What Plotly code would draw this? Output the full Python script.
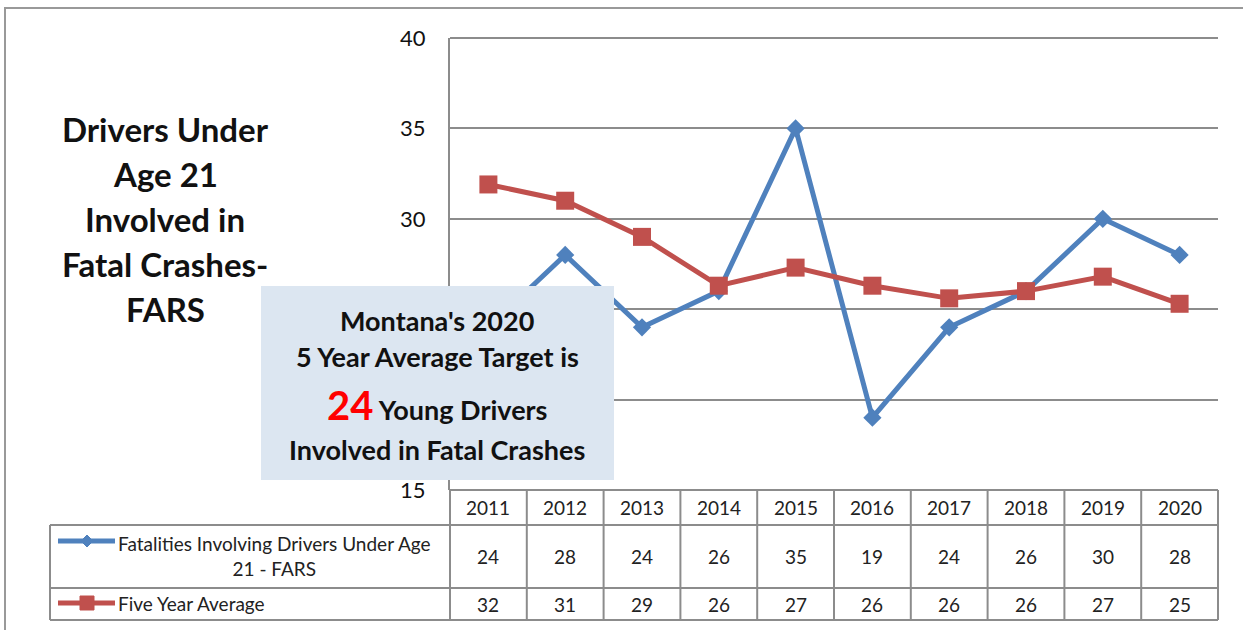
import plotly.graph_objects as go

years = ["2011", "2012", "2013", "2014", "2015", "2016", "2017", "2018", "2019", "2020"]
fatalities = [24, 28, 24, 26, 35, 19, 24, 26, 30, 28]
five_year_avg = [31.9, 31.0, 29.0, 26.3, 27.3, 26.3, 25.6, 26.0, 26.8, 25.3]
five_year_avg_labels = ["32", "31", "29", "26", "27", "26", "26", "26", "27", "25"]
fatalities_labels = [str(v) for v in fatalities]
series_names = ["Fatalities Involving Drivers Under Age<br>21 - FARS", "Five Year Average"]
y_ticks = [15, 20, 25, 30, 35, 40]
# 20 and 25 are hidden behind the target box in the reference
y_tick_text = ["15", "", "", "30", "35", "40"]

W, H = 1243, 630
L, R, T, B = 450, 25, 38, 140
PW, PH = W - L - R, H - T - B

def xp(px):
    return (px - L) / PW

def yp(py):
    return (H - B - py) / PH

BLUE = "#4F81BD"
RED = "#C0504D"
GRID = "#8c8c8c"
FONT = "Lato"

xs = list(range(len(years)))
fig = go.Figure()
fig.add_trace(go.Scatter(x=xs, y=fatalities, mode="lines+markers",
                         line=dict(color=BLUE, width=5),
                         marker=dict(symbol="diamond", size=14, color=BLUE),
                         name="fat", showlegend=False))
fig.add_trace(go.Scatter(x=xs, y=five_year_avg, mode="lines+markers",
                         line=dict(color=RED, width=5),
                         marker=dict(symbol="square", size=18, color=RED),
                         name="avg", showlegend=False))

shapes = []
ann = []

def A(x, y, text, font, xanchor="center", align="center"):
    ann.append(dict(x=x, y=y, xref="paper", yref="paper", text=text, showarrow=False,
                    xanchor=xanchor, yanchor="middle", align=align, font=font))

# outer frame
shapes.append(dict(type="rect", xref="paper", yref="paper", x0=xp(5), x1=xp(1260),
                   y0=yp(650), y1=yp(8), line=dict(color="#999999", width=2), layer="below"))

tl = dict(color=GRID, width=2)
# top gridline (40)
shapes.append(dict(type="line", xref="paper", yref="paper", x0=0, x1=1, y0=1, y1=1, line=tl, layer="below"))

# table
shapes.append(dict(type="line", xref="paper", yref="paper", x0=0, x1=1, y0=yp(490), y1=yp(490), line=tl))
for py in (525, 588, 620):
    shapes.append(dict(type="line", xref="paper", yref="paper", x0=xp(50), x1=1, y0=yp(py), y1=yp(py), line=tl))
shapes.append(dict(type="line", xref="paper", yref="paper", x0=xp(50), x1=xp(50), y0=yp(525), y1=yp(620), line=tl))
for i in range(len(years) + 1):
    x = i / len(years)
    shapes.append(dict(type="line", xref="paper", yref="paper", x0=x, x1=x, y0=yp(490), y1=yp(620), line=tl))

cell_font = dict(family=FONT, size=19, color="#222222")
for i, yr in enumerate(years):
    xc = (i + 0.5) / len(years)
    A(xc, yp(507), yr, cell_font)
    A(xc, yp(556), fatalities_labels[i], cell_font)
    A(xc, yp(604), five_year_avg_labels[i], cell_font)

# legend keys in table
shapes.append(dict(type="line", xref="paper", yref="paper", x0=xp(58), x1=xp(115), y0=yp(541), y1=yp(541),
                   line=dict(color=BLUE, width=5)))
shapes.append(dict(type="path", xref="paper", yref="paper",
                   path=f"M {xp(87)} {yp(535)} L {xp(93)} {yp(541)} L {xp(87)} {yp(547)} L {xp(81)} {yp(541)} Z",
                   fillcolor=BLUE, line=dict(color=BLUE, width=1)))
shapes.append(dict(type="line", xref="paper", yref="paper", x0=xp(58), x1=xp(115), y0=yp(603), y1=yp(603),
                   line=dict(color=RED, width=5)))
shapes.append(dict(type="rect", xref="paper", yref="paper", x0=xp(80), x1=xp(94), y0=yp(610), y1=yp(596),
                   fillcolor=RED, line=dict(color=RED, width=1)))
A(xp(116), yp(556), series_names[0], cell_font, xanchor="left", align="center")
A(xp(116), yp(603), series_names[1], cell_font, xanchor="left", align="left")

# title
title_lines = ["Drivers Under", "Age 21", "Involved in", "Fatal Crashes-", "FARS"]
title_font = dict(family=FONT, size=33, color="#111111")
for k, line in enumerate(title_lines):
    A(xp(165), yp(129 + 45 * k), f"<b>{line}</b>", title_font)

# target box
shapes.append(dict(type="rect", xref="paper", yref="paper", x0=xp(261), x1=xp(614), y0=yp(480), y1=yp(286),
                   fillcolor="#DCE6F1", line=dict(width=0), layer="above"))
box_font = dict(family=FONT, size=27, color="#111111")
A(xp(437), yp(320), "<b>Montana's 2020</b>", box_font)
A(xp(437), yp(356), "<b>5 Year Average Target is</b>", box_font)
A(xp(437), yp(405), "<b><span style='color:#FF0000;font-size:40px'>24</span> Young Drivers</b>", box_font)
A(xp(437), yp(449), "<b>Involved in Fatal Crashes</b>", box_font)

fig.update_layout(
    width=W, height=H,
    margin=dict(l=L, r=R, t=T, b=B),
    paper_bgcolor="white", plot_bgcolor="white",
    xaxis=dict(range=[-0.5, len(years) - 0.5], showticklabels=False, showgrid=False, zeroline=False,
               showline=False, fixedrange=True),
    yaxis=dict(range=[15, 40], tickvals=y_ticks, ticktext=y_tick_text, showgrid=True, gridcolor=GRID, gridwidth=2,
               showline=True, linecolor=GRID, linewidth=2, zeroline=False, ticks="",
               ticklabelstandoff=18, tickfont=dict(family=FONT, size=22, color="#111111")),
    shapes=shapes, annotations=ann, showlegend=False,
)
fig.write_html("out.html", config={"displayModeBar": False},
               post_script="document.body.style.margin='0px';document.body.style.padding='0px';")
